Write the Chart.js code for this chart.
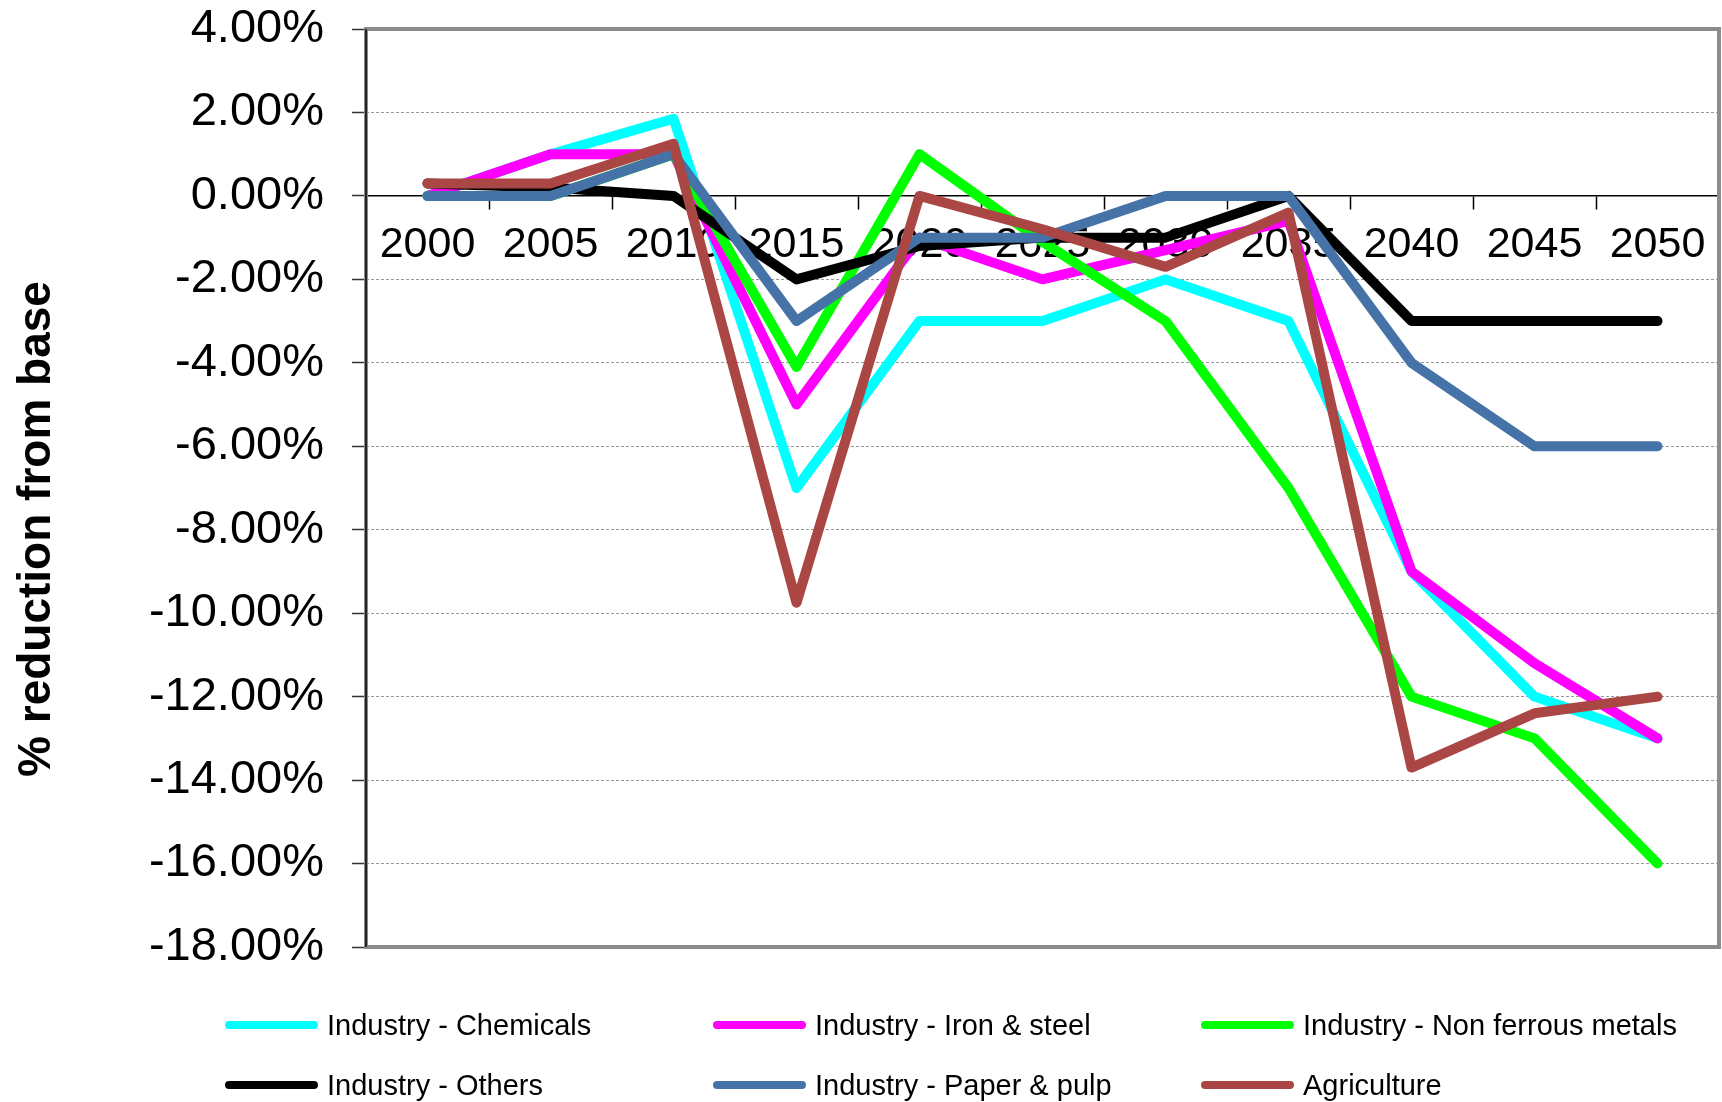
<!DOCTYPE html>
<html>
<head>
<meta charset="utf-8">
<script src="https://cdn.jsdelivr.net/npm/chart.js@4/dist/chart.umd.min.js"></script>
<style>
  body { margin: 0; background: #fff; }
  #wrap { position: relative; width: 1722px; height: 1102px; }
  #legend { position: absolute; left: 0; top: 0; font-family: "Liberation Sans", Arial, sans-serif; font-size: 29px; color: #000; }
  .item { position: absolute; height: 40px; display: flex; align-items: center; white-space: nowrap; }
  .swatch { width: 93px; height: 8px; border-radius: 4px; margin-right: 9px; }
</style>
</head>
<body>
<div id="wrap">
  <canvas id="chart" width="1722" height="1102"></canvas>
  <div id="legend"></div>
</div>
<script>
const years = ["2000", "2005", "2010", "2015", "2020", "2025", "2030", "2035", "2040", "2045", "2050"];
const yTicks = [4, 2, 0, -2, -4, -6, -8, -10, -12, -14, -16, -18];

const chemicals = [0, 1, 1.85, -7, -3, -3, -2, -3, -9, -12, -13];
const ironSteel = [0, 1, 1, -5, -1, -2, -1.3, -0.6, -9, -11.2, -13];
const nonFerrous = [0, 0, 1, -4.1, 1, -1.1, -3, -7, -12, -13, -16];
const others = [0.3, 0.2, 0, -2, -1.2, -1, -1, 0, -3, -3, -3];
const paperPulp = [0, 0, 1, -3, -1, -1, 0, 0, -4, -6, -6];
const agriculture = [0.3, 0.3, 1.25, -9.75, 0, -0.8, -1.7, -0.4, -13.7, -12.4, -12];

const seriesNames = ["Industry - Chemicals", "Industry - Iron & steel", "Industry - Non ferrous metals",
  "Industry - Others", "Industry - Paper & pulp", "Agriculture"];
const seriesData = [chemicals, ironSteel, nonFerrous, others, paperPulp, agriculture];
const seriesColors = ["#00ffff", "#ff00ff", "#00ff00", "#000000", "#4572a7", "#aa4643"];
const yTitle = "% reduction from base";

const FONT = '"Liberation Sans", Arial, sans-serif';

// excel style grey frame round the plot area
const plotFrame = {
  id: "plotFrame",
  beforeDatasetsDraw(chart) {
    const { ctx, chartArea: a } = chart;
    ctx.save();
    ctx.strokeStyle = "#8c8c8c";
    ctx.lineWidth = 4;
    ctx.strokeRect(a.left, a.top, a.right - a.left, a.bottom - a.top);
    // black axis line down the middle of the left edge
    ctx.strokeStyle = "#000";
    ctx.lineWidth = 1.5;
    ctx.beginPath();
    ctx.moveTo(a.left, a.top);
    ctx.lineTo(a.left, a.bottom);
    ctx.stroke();
    ctx.restore();
  },
};

// axis title sits lower than the plot centre in the original, so draw it by hand
const sideTitle = {
  id: "sideTitle",
  afterDraw(chart) {
    const ctx = chart.ctx;
    ctx.save();
    ctx.translate(37, 529);
    ctx.rotate(-Math.PI / 2);
    ctx.font = "bold 46px " + FONT;
    ctx.fillStyle = "#000";
    ctx.textAlign = "center";
    ctx.textBaseline = "middle";
    ctx.fillText(yTitle, 0, 0);
    ctx.restore();
  },
};

// later series sit on top, so hand them to chart.js in reverse
const datasets = seriesNames.map((name, i) => ({
  label: name,
  data: seriesData[i],
  borderColor: seriesColors[i],
  backgroundColor: seriesColors[i],
  borderWidth: 10,
  borderCapStyle: "round",
  borderJoinStyle: "round",
  pointRadius: 0,
  tension: 0,
  fill: false,
})).reverse();

new Chart(document.getElementById("chart").getContext("2d"), {
  type: "line",
  data: { labels: years, datasets },
  options: {
    responsive: false,
    animation: false,
    devicePixelRatio: 1,
    layout: { padding: { left: 0, top: 0, right: 3, bottom: 155 } },
    plugins: { legend: { display: false }, tooltip: { enabled: false } },
    scales: {
      x: {
        position: { y: 0 },
        offset: true,
        grid: { drawOnChartArea: false, drawTicks: true, offset: true, tickLength: 13, tickColor: "#000", tickWidth: 1.5 },
        border: { display: true, color: "#000", width: 1.5 },
        ticks: { color: "#000", font: { family: FONT, size: 43 }, padding: 10, maxRotation: 0, autoSkip: false },
      },
      y: {
        min: -18,
        max: 4,
        afterFit(scale) {
          scale.width = 366;
          scale.paddingTop = 29;
          scale.paddingBottom = 29;
        },
        afterBuildTicks(scale) { scale.ticks = yTicks.map(v => ({ value: v })); },
        grid: { color: "#999999", lineWidth: 1, tickColor: "#333", tickLength: 14, tickBorderDash: [], tickWidth: 1.5 },
        border: { display: false, dash: [3, 2] },
        ticks: {
          color: "#000",
          font: { family: FONT, size: 47 },
          padding: 28,
          callback: v => v.toFixed(2) + "%",
        },
      },
    },
  },
  plugins: [plotFrame, sideTitle],
});

// legend as two rows of three fixed columns
const legend = document.getElementById("legend");
seriesNames.forEach((name, i) => {
  const item = document.createElement("div");
  item.className = "item";
  item.style.left = (225 + (i % 3) * 488) + "px";
  item.style.top = ((i < 3 ? 1025 : 1085) - 20) + "px";
  const sw = document.createElement("span");
  sw.className = "swatch";
  sw.style.background = seriesColors[i];
  item.appendChild(sw);
  item.appendChild(document.createTextNode(name));
  legend.appendChild(item);
});
</script>
</body>
</html>
